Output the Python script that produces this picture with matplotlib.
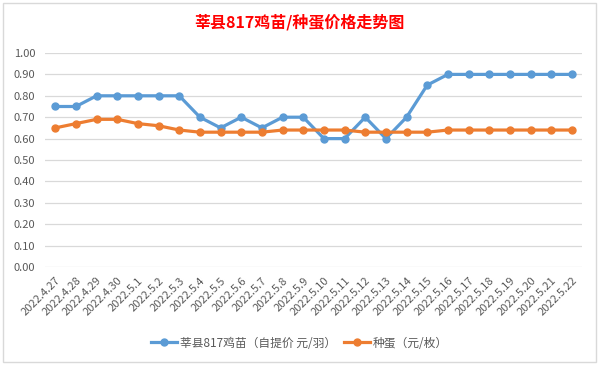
import matplotlib
matplotlib.use("Agg")
import matplotlib.pyplot as plt
import matplotlib.transforms as mtransforms
from matplotlib.patches import Rectangle

plt.rcParams['font.family'] = ['Noto Sans CJK SC', 'DejaVu Sans']

# data
dates = ['2022.4.27', '2022.4.28', '2022.4.29', '2022.4.30', '2022.5.1', '2022.5.2',
         '2022.5.3', '2022.5.4', '2022.5.5', '2022.5.6', '2022.5.7', '2022.5.8',
         '2022.5.9', '2022.5.10', '2022.5.11', '2022.5.12', '2022.5.13', '2022.5.14',
         '2022.5.15', '2022.5.16', '2022.5.17', '2022.5.18', '2022.5.19', '2022.5.20',
         '2022.5.21', '2022.5.22']
chick = [0.75, 0.75, 0.80, 0.80, 0.80, 0.80, 0.80, 0.70, 0.65, 0.70, 0.65, 0.70,
         0.70, 0.60, 0.60, 0.70, 0.60, 0.70, 0.85, 0.90, 0.90, 0.90, 0.90, 0.90,
         0.90, 0.90]
egg = [0.65, 0.67, 0.69, 0.69, 0.67, 0.66, 0.64, 0.63, 0.63, 0.63, 0.63, 0.64,
       0.64, 0.64, 0.64, 0.63, 0.63, 0.63, 0.63, 0.64, 0.64, 0.64, 0.64, 0.64,
       0.64, 0.64]
yticks = [0.0, 0.1, 0.2, 0.3, 0.4, 0.5, 0.6, 0.7, 0.8, 0.9, 1.0]

fig = plt.figure(figsize=(5.99, 3.65), dpi=100)
ax = fig.add_axes([0.075, 0.2685, 0.897, 0.5863])

x = list(range(len(dates)))
ax.plot(x, chick, color='#5B9BD5', lw=2.3, marker='o', ms=5,
        label='莘县817鸡苗（自提价 元/羽）', zorder=3)
ax.plot(x, egg, color='#ED7D31', lw=2.3, marker='o', ms=5,
        label='种蛋（元/枚）', zorder=3)

ax.set_xlim(-0.5, len(dates) - 0.5)
ax.set_ylim(0, 1.0)
ax.set_yticks(yticks)
ax.set_yticklabels(['%.2f' % v for v in yticks], color='#595959', fontsize=8)
ax.set_xticks(x)
ax.set_xticklabels(dates, rotation=45, ha='right', va='top', rotation_mode='anchor',
                   color='#595959', fontsize=8)
# nudge date labels a little to the right, like Excel does
offset = mtransforms.ScaledTranslation(4 / 100, 0, fig.dpi_scale_trans)
for lab in ax.get_xticklabels():
    lab.set_transform(lab.get_transform() + offset)
ax.tick_params(length=0)
ax.tick_params(axis='x', pad=6)
ax.tick_params(axis='y', pad=7)
ax.grid(axis='y', color='#D9D9D9', lw=0.9)
ax.set_axisbelow(True)
for s in ax.spines.values():
    s.set_visible(False)

fig.text(0.5, 0.94, '莘县817鸡苗/种蛋价格走势图', color='red', fontsize=11.5,
         fontweight='bold', ha='center', va='center')

ax.legend(loc='center', bbox_to_anchor=(0.5, 0.06), bbox_transform=fig.transFigure,
          ncol=2, frameon=False, fontsize=8.5, handlelength=2.2, columnspacing=0.6,
          handletextpad=0.3, labelcolor='#595959')

fig.patches.append(Rectangle((0.005, 0.008), 0.99, 0.984, transform=fig.transFigure,
                             fill=False, edgecolor='#D9D9D9', lw=1))

fig.savefig('out.png', dpi=100)
